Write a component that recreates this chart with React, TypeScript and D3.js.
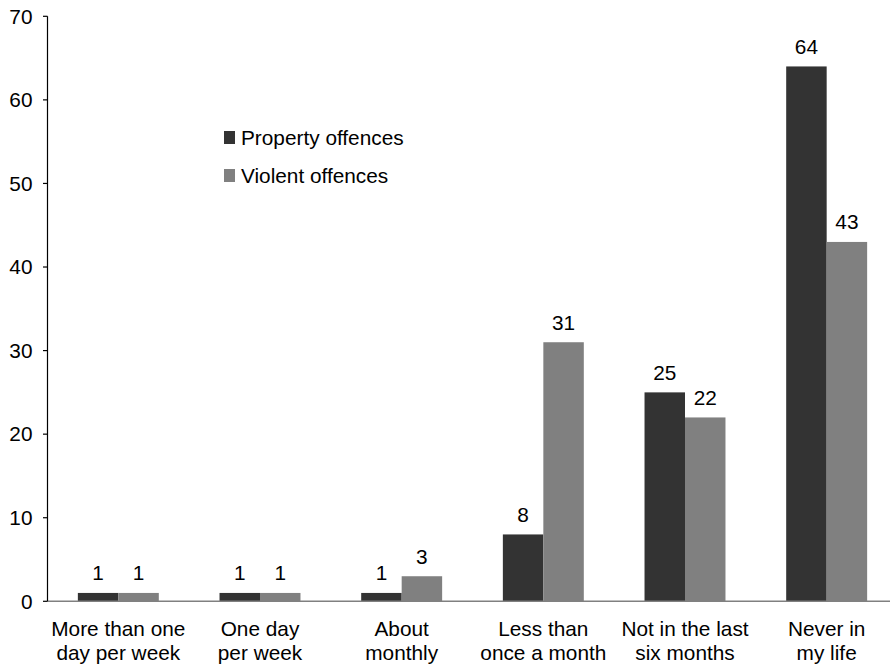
import React from "react";
import * as d3 from "d3";

const categories: string[][] = [
  ["More than one", "day per week"],
  ["One day", "per week"],
  ["About", "monthly"],
  ["Less than", "once a month"],
  ["Not in the last", "six months"],
  ["Never in", "my life"],
];
const propertyValues = [1, 1, 1, 8, 25, 64];
const violentValues = [1, 1, 3, 31, 22, 43];
const seriesNames = ["Property offences", "Violent offences"];
const seriesColors = ["#333333", "#808080"];
const yTicks = [0, 10, 20, 30, 40, 50, 60, 70];

const W = 890;
const H = 665;
const FONT = "Liberation Sans, Arial, sans-serif";
const FS = 20.8;

export default function App() {
  const x = d3
    .scaleBand<number>()
    .domain(d3.range(categories.length))
    .range([47.5, 897.5])
    .paddingInner(0)
    .paddingOuter(0);
  const inner = d3
    .scaleBand<number>()
    .domain([0, 1])
    .range([0, x.bandwidth()])
    .paddingInner(0)
    .paddingOuter(0.75);
  const y = d3.scaleLinear().domain([0, 70]).range([601.3, 16.3]);
  const series = [propertyValues, violentValues];

  return (
    <svg
      width={W}
      height={H}
      style={{ position: "absolute", left: 0, top: 0, background: "#fff" }}
      fontFamily={FONT}
    >
      {series.map((vals, s) =>
        vals.map((v, i) => {
          const bx = x(i)! + inner(s)!;
          return (
            <rect
              key={`b${s}-${i}`}
              x={bx}
              y={y(v)}
              width={inner.bandwidth()}
              height={y(0) - y(v)}
              fill={seriesColors[s]}
            />
          );
        })
      )}
      {series.map((vals, s) =>
        vals.map((v, i) => (
          <text
            key={`l${s}-${i}`}
            x={x(i)! + inner(s)! + inner.bandwidth() / 2}
            y={y(v) - 12.5}
            textAnchor="middle"
            fontSize={FS}
            fill="#000"
          >
            {v}
          </text>
        ))
      )}
      <line x1={47.5} x2={W} y1={y(0)} y2={y(0)} stroke="#808080" strokeWidth={1.5} />
      <line x1={47.5} x2={47.5} y1={y(70)} y2={y(0)} stroke="#000" strokeWidth={1.2} />
      {yTicks.map((t) => (
        <g key={`t${t}`}>
          <line x1={43} x2={47.5} y1={y(t)} y2={y(t)} stroke="#000" strokeWidth={1.2} />
          <text x={32.5} y={y(t)} dy="0.35em" textAnchor="end" fontSize={FS} fill="#000">
            {t}
          </text>
        </g>
      ))}
      {categories.map((lines, i) => (
        <text
          key={`c${i}`}
          x={x(i)! + x.bandwidth() / 2}
          y={636}
          textAnchor="middle"
          fontSize={FS}
          fill="#000"
        >
          {lines.map((ln, k) => (
            <tspan key={k} x={x(i)! + x.bandwidth() / 2} dy={k === 0 ? 0 : 24}>
              {ln}
            </tspan>
          ))}
        </text>
      ))}
      {seriesNames.map((name, s) => (
        <g key={`lg${s}`} transform={`translate(224, ${131 + s * 38})`}>
          <rect x={0} y={0} width={11} height={13} fill={seriesColors[s]} />
          <text x={17} y={13.5} fontSize={FS} fill="#000">
            {name}
          </text>
        </g>
      ))}
    </svg>
  );
}
